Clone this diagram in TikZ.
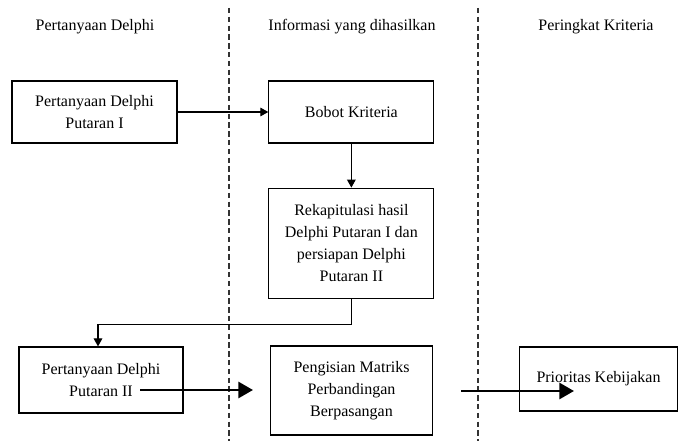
\documentclass[tikz,border=0pt]{standalone}
\usepackage{fontspec}
\setmainfont{Liberation Serif}
\usetikzlibrary{arrows.meta,positioning}

\begin{document}
\begin{tikzpicture}[
    x=0.75pt, y=-0.75pt,
    box/.style={rectangle, draw, line width=0.9pt, align=center, inner sep=0pt, font=\fontsize{12}{16.5}\selectfont},
    header/.style={font=\fontsize{12}{14}\selectfont},
    divider/.style={draw=black!80, line width=1pt, dash pattern=on 4pt off 2.6pt},
    flow/.style={-{Triangle[length=6pt,width=6.5pt]}, line width=0.8pt},
    bigflow/.style={-{Triangle[length=11pt,width=12pt]}, line width=2.2pt}
]
\useasboundingbox (0,0) rectangle (678,441);

% column headers and separators
\node[header] (head1) at (95,27) {Pertanyaan Delphi};
\node[header] (head2) at (352,27) {Informasi yang dihasilkan};
\node[header] (head3) at (596,27) {Peringkat Kriteria};
\draw[divider] (229,8) -- (229,441);
\draw[divider] (478,8) -- (478,441);

% boxes
\node[box, minimum width=123.75pt, minimum height=46.5pt] (tanya1) at (94.5,112) {Pertanyaan Delphi\\Putaran I};
\node[box, minimum width=123.75pt, minimum height=46.5pt, right=68pt of tanya1] (bobot) {Bobot Kriteria};
\node[box, minimum width=123.75pt, minimum height=82.5pt, below=33pt of bobot] (rekap) {Rekapitulasi hasil\\Delphi Putaran I dan\\persiapan Delphi\\Putaran II};
\node[box, minimum width=123pt, minimum height=49.5pt] (tanya2) at (101,380) {Pertanyaan Delphi\\Putaran II};
\node[box, minimum width=121.5pt, minimum height=66.75pt] (matriks) at (351.5,390.5) {Pengisian Matriks\\Perbandingan\\Berpasangan};
\node[box, minimum width=118pt, minimum height=48pt] (prioritas) at (598.5,379) {Prioritas Kebijakan};

% free ends of the thick arrows
\coordinate (mulai1) at (140,390);
\coordinate (ujung1) at (253,390);
\coordinate (mulai2) at (461,391);
\coordinate (ujung2) at (574,391);

% connectors
\draw[flow] (tanya1) -- (bobot);
\draw[flow] (bobot) -- (rekap);
\draw[flow] (rekap.south) -- ++(0,26) -| ([xshift=-2.25pt]tanya2.north);
\draw[bigflow] (mulai1) -- (ujung1);
\draw[bigflow] (mulai2) -- (ujung2);

\end{tikzpicture}
\end{document}
